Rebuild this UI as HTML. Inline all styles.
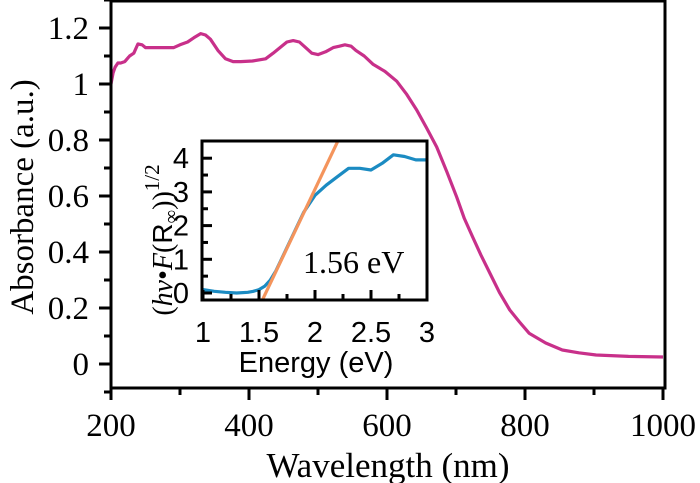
<!DOCTYPE html>
<html><head><meta charset="utf-8"><style>
html,body{margin:0;padding:0;background:#fff;}
svg{display:block;}
.serif{font-family:"Liberation Serif",serif;}
.sans{font-family:"Liberation Sans",sans-serif;}
</style></head><body>
<svg id="chart" width="700" height="483" viewBox="0 0 700 483" xmlns="http://www.w3.org/2000/svg">
<g id="main"></g>
<g id="inset"></g>
</svg>
<script>
// Main spectrum data
const mainWavelengths = [200,203,206,210,214,220,227,233,239,245,250,265,280,291,300,311,320,330,337,344,355,366,377,388,405,424,435,445,455,464,473,482,491,500,511,522,531,539,548,555,567,580,597,614,628,643,657,672,687,701,712,724,736,749,763,778,792,806,830,854,878,903,950,1000];
const mainAbsorbance = [1.0,1.04,1.06,1.075,1.075,1.08,1.1,1.11,1.143,1.14,1.13,1.13,1.13,1.13,1.14,1.15,1.165,1.18,1.175,1.16,1.12,1.09,1.08,1.08,1.082,1.09,1.11,1.13,1.15,1.155,1.15,1.13,1.11,1.105,1.115,1.13,1.135,1.14,1.135,1.12,1.1,1.07,1.045,1.01,0.965,0.907,0.845,0.775,0.685,0.596,0.52,0.454,0.39,0.325,0.255,0.193,0.15,0.11,0.075,0.05,0.04,0.032,0.027,0.025];
const mainXTicks = [200,400,600,800,1000];
const mainYTicks = [0,0.2,0.4,0.6,0.8,1,1.2];
const mainYTickLabels = ["0","0.2","0.4","0.6","0.8","1","1.2"];
// Inset Tauc data
const insetEnergy = [1.0,1.1,1.2,1.3,1.4,1.45,1.5,1.55,1.6,1.65,1.7,1.8,1.9,2.0,2.1,2.2,2.3,2.4,2.5,2.6,2.7,2.8,2.9,3.0];
const insetTauc = [0.1,0.05,0.02,0.0,0.02,0.05,0.1,0.2,0.38,0.65,1.0,1.7,2.4,2.9,3.2,3.45,3.7,3.7,3.65,3.85,4.1,4.05,3.95,3.95];
const fitLine = [1.56,2.2];
const fitSlope = 7.0;
const insetXTicks = [1,1.5,2,2.5,3];
const insetYTicks = [0,1,2,3,4];

const NS="http://www.w3.org/2000/svg";
function mk(parent,tag,attrs,text){const e=document.createElementNS(NS,tag);for(const k in attrs)e.setAttribute(k,attrs[k]);if(text!==undefined)e.textContent=text;parent.appendChild(e);return e;}

// main axes
const mx=v=>111+(v-200)*0.69;
const my=v=>364-v*280;
const main=document.getElementById('main');
let p=mk(main,'path',{d:mainWavelengths.map((w,i)=>(i?'L':'M')+mx(w).toFixed(1)+','+my(mainAbsorbance[i]).toFixed(1)).join(''),fill:'none',stroke:'#c8308a','stroke-width':3.2,'stroke-linejoin':'round'});


let fr=mk(main,'rect',{x:111,y:1,width:554,height:387,fill:'none',stroke:'#000','stroke-width':3});


for(let w=200;w<=1000;w+=100){const maj=mainXTicks.includes(w);mk(main,'line',{x1:mx(w),x2:mx(w),y1:388,y2:maj?400:395,stroke:'#000','stroke-width':3});}
mainXTicks.forEach(w=>{const t=mk(main,'text',{x:mx(w),y:436,'text-anchor':'middle','font-size':33,class:'serif'},String(w));

});
for(let v=-0.1;v<=1.3;v+=0.1){const r=Math.round(v*10);const maj=r%2===0;mk(main,'line',{x1:maj?99:104,x2:111,y1:my(r/10),y2:my(r/10),stroke:'#000','stroke-width':3});}
mainYTicks.forEach((v,i)=>{const t=mk(main,'text',{x:89,y:my(v)+11,'text-anchor':'end','font-size':33,class:'serif'},mainYTickLabels[i]);

});
let xt=mk(main,'text',{x:388,y:477,'text-anchor':'middle','font-size':35,class:'serif'},'Wavelength (nm)');


let yt=mk(main,'text',{x:0,y:0,'text-anchor':'middle','font-size':33,class:'serif',transform:'translate(33,197) rotate(-90)'},'Absorbance (a.u.)');



// inset
const ix=v=>203+(v-1)*112;
const iy=v=>293-v*33.7;
const inset=document.getElementById('inset');
mk(inset,'rect',{x:202,y:141,width:225,height:159,fill:'#fff'});
const cp=mk(inset,'clipPath',{id:'ic'});mk(cp,'rect',{x:202,y:141,width:225,height:159});
let bl=mk(inset,'path',{d:insetEnergy.map((e,i)=>(i?'L':'M')+ix(e).toFixed(1)+','+iy(insetTauc[i]).toFixed(1)).join(''),fill:'none',stroke:'#1b8bc2','stroke-width':3.2,'stroke-linejoin':'round','clip-path':'url(#ic)'});


let fl=mk(inset,'line',{x1:ix(fitLine[0]-0.03),y1:iy(-0.03*fitSlope),x2:ix(fitLine[1]),y2:iy((fitLine[1]-fitLine[0])*fitSlope),stroke:'#f4945c','stroke-width':3.2,'clip-path':'url(#ic)'});


let ifr=mk(inset,'rect',{x:202,y:141,width:225,height:159,fill:'none',stroke:'#000','stroke-width':3});


for(let e=1;e<=3.001;e+=0.25){const maj=Math.abs(e*2-Math.round(e*2))<0.01;mk(inset,'line',{x1:ix(e),x2:ix(e),y1:300,y2:maj?290:294,stroke:'#000','stroke-width':3});}
for(let v=0;v<=4.001;v+=0.5){const maj=Math.abs(v-Math.round(v))<0.01;mk(inset,'line',{x1:202,x2:maj?212:208,y1:iy(v),y2:iy(v),stroke:'#000','stroke-width':3});}
insetXTicks.forEach(e=>{const t=mk(inset,'text',{x:ix(e),y:342,'text-anchor':'middle','font-size':29,class:'sans'},String(e));

});
insetYTicks.forEach(v=>{const t=mk(inset,'text',{x:189,y:iy(v)+10,'text-anchor':'end','font-size':29,class:'sans'},String(v));

});
let ixt=mk(inset,'text',{x:316,y:372,'text-anchor':'middle','font-size':29,class:'sans'},'Energy (eV)');


let iyt=mk(inset,'text',{x:0,y:0,'text-anchor':'middle','font-size':28,class:'serif',transform:'translate(172,240) rotate(-90)'});
iyt.innerHTML='(<tspan font-style="italic">hν</tspan>•<tspan font-style="italic">F</tspan>(<tspan font-family="Liberation Sans, sans-serif">R</tspan><tspan font-size="19" dy="5">∞</tspan><tspan dy="-5">))</tspan><tspan font-size="21" dy="-13">1/2</tspan>';


let ann=mk(inset,'text',{x:303,y:273,'font-size':32,class:'serif'},'1.56 eV');


</script>
</body></html>
